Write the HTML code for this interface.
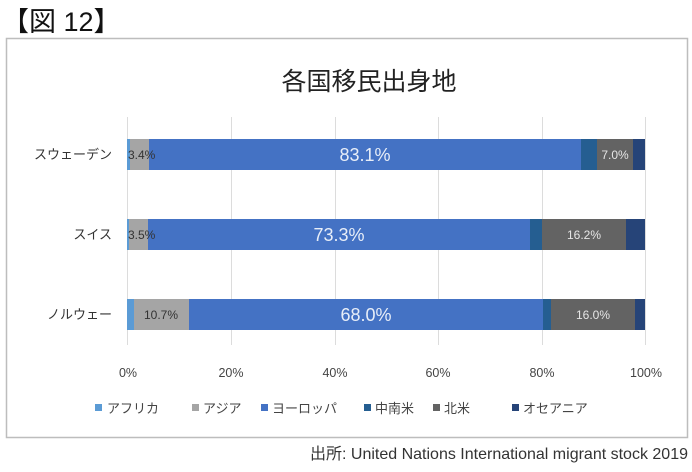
<!DOCTYPE html>
<html><head><meta charset="utf-8"><style>
html,body{margin:0;padding:0;background:#fff;}
body{width:692px;height:467px;overflow:hidden;}
text{font-family:"Liberation Sans","Noto Sans CJK JP",sans-serif;}
</style></head><body>
<svg width="692" height="467" xmlns="http://www.w3.org/2000/svg">
<text x="2" y="31" font-size="27" font-family="'Noto Sans CJK JP',sans-serif" fill="#111">【図 12】</text>
<rect x="6.5" y="38.5" width="681" height="399" fill="#fff" stroke="#bdbdbd" stroke-width="1.5"/>
<text x="369" y="90" font-size="25" text-anchor="middle" fill="#222" font-family="'Noto Sans CJK JP',sans-serif">各国移民出身地</text>
<g stroke="#dcdcdc" stroke-width="1">
<line x1="127.5" y1="117" x2="127.5" y2="345"/><line x1="231.5" y1="117" x2="231.5" y2="345"/>
<line x1="335.5" y1="117" x2="335.5" y2="345"/><line x1="438.5" y1="117" x2="438.5" y2="345"/>
<line x1="542.5" y1="117" x2="542.5" y2="345"/><line x1="645.5" y1="117" x2="645.5" y2="345"/>
</g>
<rect x="127" y="139" width="3" height="31" fill="#5b9bd5"/>
<rect x="130" y="139" width="19" height="31" fill="#a5a5a5"/>
<rect x="149" y="139" width="432" height="31" fill="#4472c4"/>
<rect x="581" y="139" width="16" height="31" fill="#255e91"/>
<rect x="597" y="139" width="36" height="31" fill="#636363"/>
<rect x="633" y="139" width="12" height="31" fill="#264478"/>
<rect x="127" y="219" width="2" height="31" fill="#5b9bd5"/>
<rect x="129" y="219" width="19" height="31" fill="#a5a5a5"/>
<rect x="148" y="219" width="382" height="31" fill="#4472c4"/>
<rect x="530" y="219" width="12" height="31" fill="#255e91"/>
<rect x="542" y="219" width="84" height="31" fill="#636363"/>
<rect x="626" y="219" width="19" height="31" fill="#264478"/>
<rect x="127" y="299" width="7" height="31" fill="#5b9bd5"/>
<rect x="134" y="299" width="55" height="31" fill="#a5a5a5"/>
<rect x="189" y="299" width="354" height="31" fill="#4472c4"/>
<rect x="543" y="299" width="8" height="31" fill="#255e91"/>
<rect x="551" y="299" width="84" height="31" fill="#636363"/>
<rect x="635" y="299" width="10" height="31" fill="#264478"/>
<g font-size="12" fill="#333">
<text x="128" y="159">3.4%</text><text x="128" y="239">3.5%</text>
<text x="161" y="319" text-anchor="middle">10.7%</text>
</g>
<g font-size="18" fill="#e8eef8" text-anchor="middle">
<text x="365" y="161">83.1%</text><text x="339" y="241">73.3%</text><text x="366" y="321">68.0%</text>
</g>
<g font-size="12" fill="#e6e6e6" text-anchor="middle">
<text x="615" y="159">7.0%</text><text x="584" y="239">16.2%</text><text x="593" y="319">16.0%</text>
</g>
<g font-size="13" fill="#333" text-anchor="end" font-family="'Noto Sans CJK JP',sans-serif">
<text x="112" y="159">スウェーデン</text><text x="112" y="239">スイス</text><text x="112" y="319">ノルウェー</text>
</g>
<g font-size="12.5" fill="#444" text-anchor="middle">
<text x="128" y="377">0%</text><text x="231" y="377">20%</text><text x="335" y="377">40%</text>
<text x="438" y="377">60%</text><text x="542" y="377">80%</text><text x="646" y="377">100%</text>
</g>
<g font-size="13" fill="#444" font-family="'Noto Sans CJK JP',sans-serif">
<rect x="95" y="404" width="7" height="7" fill="#5b9bd5"/><text x="107" y="413">アフリカ</text>
<rect x="192" y="404" width="7" height="7" fill="#a5a5a5"/><text x="203" y="413">アジア</text>
<rect x="261" y="404" width="7" height="7" fill="#4472c4"/><text x="272" y="413">ヨーロッパ</text>
<rect x="364" y="404" width="7" height="7" fill="#255e91"/><text x="375" y="413">中南米</text>
<rect x="433" y="404" width="7" height="7" fill="#636363"/><text x="444" y="413">北米</text>
<rect x="512" y="404" width="7" height="7" fill="#264478"/><text x="523" y="413">オセアニア</text>
</g>
<text x="688" y="459" font-size="16" fill="#333" text-anchor="end" font-family="'Liberation Sans','Noto Sans CJK JP',sans-serif">出所:  United Nations International migrant stock 2019</text>
</svg>
</body></html>
